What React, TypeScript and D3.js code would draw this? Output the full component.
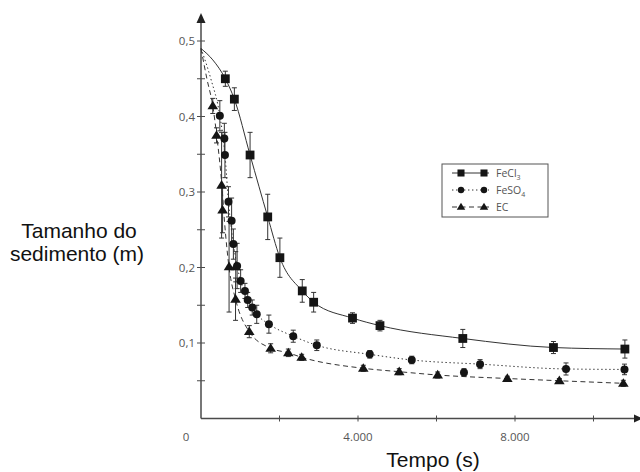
import React from 'react'
import * as d3 from 'd3'

const width = 640
const height = 472

// FeCl3 (squares, solid line)
const fecl3Time = [620, 850, 1250, 1700, 2010, 2580, 2870, 3860, 4560, 6670, 8980, 10800]
const fecl3Size = [0.45, 0.423, 0.349, 0.267, 0.213, 0.169, 0.154, 0.133, 0.123, 0.106, 0.094, 0.092]
const fecl3Err = [0.01, 0.015, 0.03, 0.03, 0.026, 0.015, 0.013, 0.007, 0.007, 0.012, 0.008, 0.012]
const fecl3FitTime = [0, 300, 620, 850, 1250, 1700, 2010, 2580, 2870, 3860, 4560, 6670, 8980, 10800]
const fecl3FitSize = [0.49, 0.475, 0.45, 0.423, 0.349, 0.267, 0.213, 0.169, 0.154, 0.133, 0.123, 0.106, 0.094, 0.092]

// FeSO4 (circles, dotted line)
const feso4Time = [480, 595, 610, 700, 780, 825, 920, 1010, 1120, 1190, 1305, 1420, 1730, 2350, 2950, 4300, 5370, 6700, 7110, 9300, 10790]
const feso4Size = [0.401, 0.371, 0.349, 0.287, 0.262, 0.231, 0.202, 0.182, 0.169, 0.157, 0.147, 0.138, 0.125, 0.109, 0.097, 0.085, 0.0775, 0.061, 0.072, 0.0656, 0.065]
const feso4Err = [0.02, 0.02, 0.03, 0.02, 0.03, 0.02, 0.03, 0.015, 0.01, 0.01, 0.01, 0.012, 0.012, 0.008, 0.007, 0.005, 0.005, 0.005, 0.006, 0.008, 0.007]
const feso4FitTime = [0, 250, 480, 610, 700, 825, 920, 1010, 1190, 1420, 1730, 2350, 2950, 4300, 5370, 7110, 9300, 10790]
const feso4FitSize = [0.49, 0.45, 0.401, 0.35, 0.287, 0.231, 0.202, 0.182, 0.157, 0.138, 0.125, 0.109, 0.097, 0.085, 0.0775, 0.072, 0.0656, 0.065]

// EC (triangles, dashed line)
const ecTime = [300, 395, 525, 550, 715, 880, 885, 1230, 1775, 2225, 2565, 4135, 5050, 6030, 7805, 9130, 10760]
const ecSize = [0.414, 0.375, 0.309, 0.276, 0.201, 0.158, 0.201, 0.115, 0.093, 0.087, 0.081, 0.0665, 0.062, 0.0576, 0.053, 0.05, 0.0466]
const ecErr = [0.01, 0.01, 0.07, 0.03, 0.06, 0.028, 0.02, 0.008, 0.006, 0.005, 0.004, 0.004, 0.004, 0.004, 0.003, 0.003, 0.004]
const ecFitTime = [0, 150, 300, 400, 530, 600, 715, 880, 1230, 1780, 2220, 2570, 4135, 5050, 6030, 7800, 9130, 10760]
const ecFitSize = [0.49, 0.45, 0.414, 0.375, 0.31, 0.26, 0.2, 0.158, 0.115, 0.093, 0.087, 0.081, 0.0665, 0.062, 0.0576, 0.053, 0.05, 0.0466]

const yTicks = [0.1, 0.2, 0.3, 0.4, 0.5]
const yTickLabels = ['0,1', '0,2', '0,3', '0,4', '0,5']
const yMinorTicks = [0.05, 0.15, 0.25, 0.35, 0.45]
const xTicks = [2000, 4000, 6000, 8000, 10000]
const xTickLabels = ['0', '4.000', '8.000']
const xLabelValues = [0, 4000, 8000]

const axisColor = '#4a4a4a'
const markColor = '#151515'
const tickFont = { fontFamily: 'Open Sans', fontSize: 11.5, fill: '#555' }
const titleFont = { fontFamily: 'Liberation Sans', fontSize: 21, fill: '#111' }

const x = d3.scaleLinear().domain([0, 10000]).range([201, 593.5])
const y = d3.scaleLinear().domain([0, 0.5]).range([418.5, 41])

const fitLine = d3
  .line<[number, number]>()
  .x((d) => x(d[0]))
  .y((d) => y(d[1]))
  .curve(d3.curveMonotoneX)

const zip = (a: number[], b: number[]) => a.map((d, i) => [d, b[i]] as [number, number])

function Marker({ kind, cx, cy, s = 1 }: { kind: string; cx: number; cy: number; s?: number }) {
  if (kind === 'square') {
    const h = 4.4 * s
    return <rect x={cx - h} y={cy - h} width={h * 2} height={h * 2} fill={markColor} />
  }
  if (kind === 'circle') {
    return <circle cx={cx} cy={cy} r={4 * s} fill={markColor} />
  }
  const w = 5.3 * s
  const h = 8.6 * s
  return (
    <path
      d={`M${cx},${cy - h * 0.6}L${cx + w},${cy + h * 0.4}L${cx - w},${cy + h * 0.4}Z`}
      fill={markColor}
    />
  )
}

const series = [
  { key: 'fecl3', kind: 'square', dash: 'none', time: fecl3Time, size: fecl3Size, err: fecl3Err, fit: zip(fecl3FitTime, fecl3FitSize) },
  { key: 'feso4', kind: 'circle', dash: '1.4 2.6', time: feso4Time, size: feso4Size, err: feso4Err, fit: zip(feso4FitTime, feso4FitSize) },
  { key: 'ec', kind: 'triangle', dash: '5 3.5', time: ecTime, size: ecSize, err: ecErr, fit: zip(ecFitTime, ecFitSize) },
]

function LegendLabel({ name }: { name: string }) {
  if (name === 'fecl3')
    return (
      <>
        FeCl<tspan dy={3} fontSize={7}>3</tspan>
      </>
    )
  if (name === 'feso4')
    return (
      <>
        FeSO<tspan dy={3} fontSize={7}>4</tspan>
      </>
    )
  return <>EC</>
}

export default function App() {
  const legendX = 442
  const legendY = 164
  const rowY = [173, 190, 207]

  return (
    <svg
      width={width}
      height={height}
      style={{ position: 'absolute', left: 0, top: 0, background: '#fff' }}
    >
      {/* axes */}
      <line x1={x(0)} x2={x(0)} y1={y(0)} y2={20} stroke={axisColor} strokeWidth={1.5} />
      <path d={`M${x(0)},13L${x(0) + 4.5},23L${x(0) - 4.5},23Z`} fill="#222" />
      <line x1={x(0)} x2={636} y1={y(0)} y2={y(0)} stroke={axisColor} strokeWidth={1.5} />
      <path d={`M643,${y(0)}L634,${y(0) - 4}L634,${y(0) + 4}Z`} fill="#222" />

      {yTicks.concat(yMinorTicks).map((t) => (
        <line key={'yt' + t} x1={x(0) - 4} x2={x(0) + 4} y1={y(t)} y2={y(t)} stroke={axisColor} strokeWidth={1} />
      ))}
      {xTicks.map((t) => (
        <line key={'xt' + t} x1={x(t)} x2={x(t)} y1={y(0) - 3} y2={y(0) + 3} stroke={axisColor} strokeWidth={1} />
      ))}
      {yTicks.map((t, i) => (
        <text key={'yl' + t} x={195} y={y(t) + 4} textAnchor="end" style={tickFont}>
          {yTickLabels[i]}
        </text>
      ))}
      {xLabelValues.map((t, i) => (
        <text key={'xl' + t} x={t === 0 ? x(t) - 15 : x(t)} y={441} textAnchor="middle" style={tickFont}>
          {xTickLabels[i]}
        </text>
      ))}

      {/* fitted curves */}
      {series.map((s) => (
        <path
          key={'fit-' + s.key}
          d={fitLine(s.fit) || ''}
          fill="none"
          stroke="#333"
          strokeWidth={1}
          strokeDasharray={s.dash}
        />
      ))}

      {/* error bars */}
      {series.map((s) =>
        s.time.map((t, i) => {
          const cx = x(t)
          const top = y(s.size[i] + s.err[i])
          const bottom = y(s.size[i] - s.err[i])
          return (
            <g key={`err-${s.key}-${i}`} stroke="#333" strokeWidth={1}>
              <line x1={cx} x2={cx} y1={top} y2={bottom} />
              <line x1={cx - 2.5} x2={cx + 2.5} y1={top} y2={top} />
              <line x1={cx - 2.5} x2={cx + 2.5} y1={bottom} y2={bottom} />
            </g>
          )
        })
      )}

      {/* markers */}
      {series.map((s) =>
        s.time.map((t, i) => (
          <Marker key={`m-${s.key}-${i}`} kind={s.kind} cx={x(t)} cy={y(s.size[i])} />
        ))
      )}

      {/* legend */}
      <rect x={legendX} y={legendY} width={106} height={53} fill="#fff" stroke="#555" strokeWidth={1} />
      {series.map((s, i) => (
        <g key={'lg-' + s.key}>
          <line x1={452} x2={489} y1={rowY[i]} y2={rowY[i]} stroke="#333" strokeWidth={1} strokeDasharray={s.dash} />
          <Marker kind={s.kind} cx={461} cy={rowY[i]} s={0.8} />
          <Marker kind={s.kind} cx={484} cy={rowY[i]} s={0.8} />
          <text x={496} y={rowY[i] + 3.5} style={{ ...tickFont, fontSize: 10.5 }}>
            <LegendLabel name={s.key} />
          </text>
        </g>
      ))}

      {/* axis titles */}
      <text x={79} y={238} textAnchor="middle" style={titleFont}>
        Tamanho do
      </text>
      <text x={77} y={261} textAnchor="middle" style={titleFont}>
        sedimento (m)
      </text>
      <text x={433} y={467} textAnchor="middle" style={titleFont}>
        Tempo (s)
      </text>
    </svg>
  )
}
